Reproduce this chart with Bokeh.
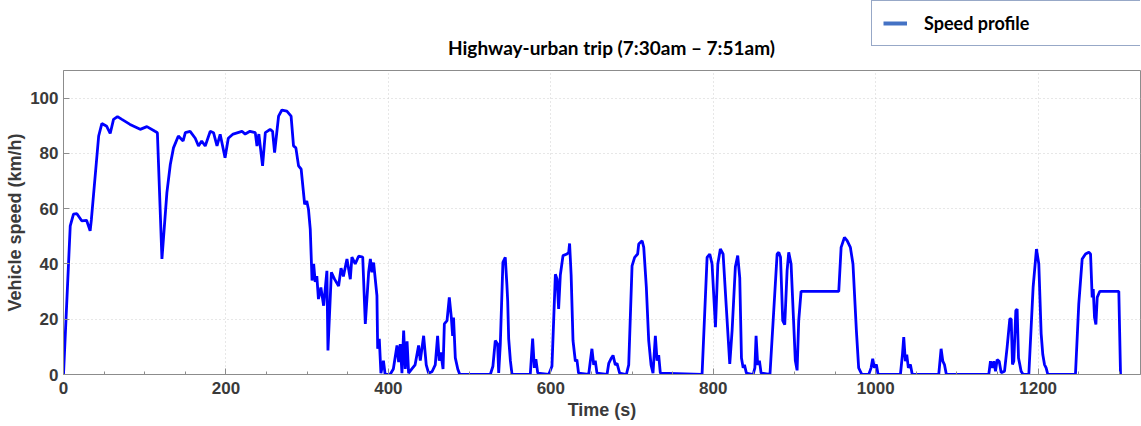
from bokeh.plotting import figure
from bokeh.layouts import column
from bokeh.models import (Range1d, Legend, LegendItem, Label,
                          SingleIntervalTicker, ColumnDataSource)
from bokeh.embed import file_html
from bokeh.resources import INLINE

# ---- data (time in s, speed in km/h) ----
time_s = [0, 8.3, 12.3, 16.5, 22.4, 28.4, 32.8, 34.3, 43.3, 47.2, 53.2, 57.5, 61.6, 66.5, 71.9,
          81.9, 94.4, 102.7, 112.6, 115.6, 121.2, 127.3, 131.5, 135.4, 141.4, 147.3, 150, 155.9,
          162.2, 166.2, 170.1, 174.5, 180.7, 184.7, 189, 192.9, 198.9, 202.9, 208.8, 219.7, 223.7,
          229.6, 236.1, 238.2, 240.5, 245.1, 248.5, 254.4, 257.4, 259.9, 264.8, 268.9, 275, 280.2,
          283.2, 286.1, 289.4, 292.6, 296.9, 299.5, 301.6, 303.8, 306, 308, 309.9, 311.9, 313.9,
          316.9, 320.3, 324.3, 325.6, 329.8, 333.7, 338.7, 341.7, 344.6, 349, 353.1, 355.1, 359.2,
          363.3, 368.4, 371.6, 375.7, 377.8, 379.7, 381.8, 385.9, 386.8, 388.8, 390.8, 393.9, 396,
          402.1, 406.1, 410.6, 412.6, 414.6, 416.7, 418.8, 420.8, 423, 424.9, 428.9, 432.9, 437.2,
          439.3, 443.4, 446.6, 449.5, 453.7, 457.7, 460.6, 462.6, 464.6, 467.3, 468.9, 472.2, 475,
          477.5, 479.1, 480.2, 482.4, 485.4, 487.9, 525.5, 528.7, 531.6, 534.5, 535.8, 537.8, 541,
          543.9, 545.9, 546.9, 548.1, 550.2, 552.2, 574.7, 577.6, 579.7, 581.6, 583.9, 597.4, 601.4,
          605.6, 607.7, 609.6, 611.7, 615, 619.9, 622, 623.1, 625, 627.3, 630.2, 632.1, 634.1, 646.6,
          648.7, 650.6, 652.8, 654.7, 656.8, 669.2, 671.3, 674.6, 676.6, 679.4, 681.5, 684.7, 693,
          695.9, 700, 703.2, 706.9, 708.2, 712.4, 714.4, 717.6, 720.5, 723.4, 725.8, 728.7, 730.8,
          732.8, 734.8, 786.2, 792.4, 795.7, 798.5, 802.7, 805.6, 808.7, 812.1, 815.9, 820.3, 823.2,
          827.2, 830.1, 832.6, 834.7, 836.8, 838.4, 840.8, 849.1, 851.2, 852.7, 854.7, 856.8, 858.9,
          869.8, 878.6, 880.7, 882.8, 885.5, 888, 890.9, 892.9, 895.8, 901, 903.2, 905.2, 908.1,
          954.5, 957.4, 961.5, 964.8, 968.8, 972, 976.2, 979, 983, 991.4, 994.3, 996.3, 998.3,
          1000.8, 1002.9, 1030.4, 1032.9, 1034.5, 1036.5, 1038.2, 1040.2, 1042.7, 1045, 1077.6,
          1080.5, 1082.6, 1084.6, 1087, 1139.2, 1141.3, 1143.4, 1145.4, 1147.5, 1149.5, 1152,
          1154.5, 1158.6, 1161.8, 1165.1, 1166.8, 1168.4, 1170, 1172.5, 1174.1, 1175.8, 1177.4,
          1179, 1181.5, 1188.5, 1193.8, 1197.9, 1200.8, 1203.7, 1205.7, 1207.8, 1209.8, 1211.9,
          1245.9, 1250, 1254.2, 1258.3, 1262.4, 1264.5, 1266.5, 1267.8, 1269.4, 1271.1, 1272.7,
          1275.9, 1299.3, 1301.4]
speed_kmh = [0, 53.8, 58, 58.2, 55.6, 55.8, 52, 56, 86.3, 90.8, 89.8, 87.2, 92.3, 93.3, 92.3,
             90.5, 88.7, 89.7, 88, 87.5, 41.8, 65.8, 76, 82, 86.3, 84.5, 87.5, 88,
             85.5, 82.7, 84.5, 82.7, 88, 87.5, 82.7, 86.9, 78.4, 85.5, 87, 88, 87,
             88, 87.5, 82.7, 87, 75.5, 87.5, 88.7, 88, 80.3, 93.5, 95.7, 95.3, 93.5,
             82.7, 82, 75.5, 74.3, 61.6, 62.8, 59.8, 52.6, 34, 40, 33.5, 35.6, 27.3,
             31.5, 24.9, 37.5, 8.7, 37, 34.5, 32, 38.5, 35.5, 41.8, 34.5, 42.5, 40,
             42.8, 42.5, 18.3, 37, 41.8, 37, 40.5, 28.5, 9.3, 12.9, 0.5, 5, 0,
             0, 2, 10.5, 4.5, 11, 0.5, 15.9, 2, 12, 0.5, 2, 3.5, 10.5,
             5, 14, 3.5, 0.5, 1, 3.5, 14, 5, 8, 2, 18.3, 19.5, 27.9,
             20.6, 14, 20.6, 6, 2, 0, 0, 3, 12.3, 11, 0.6, 11, 40.6,
             42.4, 32.5, 26.5, 13, 5, 0, 0, 13, 2.4, 5.5, 0.5, 0, 3,
             36.3, 34.5, 23.7, 36, 43, 43.6, 44.2, 47.4, 36, 12.3, 4.8, 5.4, 0.5, 0,
             5, 9.3, 3.5, 5, 0.5, 0, 4, 6, 6.9, 3.5, 4, 0.5, 0,
             3.5, 39.3, 42.4, 43.6, 47.2, 48.4, 46, 31.5, 12.3, 3.5, 0.5, 14, 5,
             7, 0.5, 0, 42.4, 43.6, 40, 17.1, 40, 45.4, 43.6, 25, 3.8, 16,
             39, 43, 35, 6, 2.4, 3.5, 0.5, 0, 2.4, 14, 3.5, 5, 0.5,
             0, 43.6, 44.2, 42.4, 19.5, 18, 37.6, 44.2, 40, 5.1, 1.5, 19.5, 30.1,
             30.1, 46, 49.6, 48.4, 46, 40, 15.9, 2.4, 0, 0, 2.4, 5.7, 2.4,
             3.6, 0, 0, 7.2, 13.5, 4.8, 7.2, 2.4, 3.6, 0, 0,
             9.3, 4.8, 3.6, 0, 0, 4.8, 2.4, 4.8, 1.2, 5.4, 4.8,
             0.6, 1.2, 9.9, 20.1, 20.1, 3.6, 4.8, 23.1, 23.7, 6, 3.6,
             1.2, 0, 0, 31.6, 45.4, 40, 14.7, 7.2, 3.6, 2.4, 0,
             0, 25.5, 41.8, 43.6, 44.2, 43.6, 27.9, 30.9, 20.6, 18.1, 27.9,
             30.1, 30.1, 0]

title_text = "Highway-urban trip (7:30am \u2013 7:51am)"
x_label = "Time (s)"
y_label = "Vehicle speed (km/h)"
legend_label = "Speed profile"

W = 1141
TOP_H = 69
MAIN_H = 426 - TOP_H
FRAME_L, FRAME_R = 63, 1140   # the column layout aligns both frames

# ---------- header strip: title + legend ----------
head = figure(width=W, height=TOP_H, output_backend="svg", toolbar_location=None,
              title=None, x_axis_type=None, y_axis_type=None,
              x_range=Range1d(FRAME_L, FRAME_R), y_range=Range1d(TOP_H, 0),
              min_border_left=FRAME_L, min_border_right=W - FRAME_R,
              min_border_top=0, min_border_bottom=0,
              outline_line_color=None, background_fill_color="white",
              border_fill_color="white")
head.grid.visible = False

head.add_layout(Label(x=611, y=47, text=title_text, text_align="center",
                      text_baseline="middle", text_font="Lato",
                      text_font_style="bold", text_font_size="19px",
                      text_color="#000000"))

leg_src = ColumnDataSource(dict(x=[float("nan")], y=[float("nan")]))
leg_r = head.line("x", "y", source=leg_src, line_color="#4472C4", line_width=4)
legend = Legend(items=[LegendItem(label=legend_label, renderers=[leg_r])],
                location=(871 - FRAME_L, TOP_H - 46), orientation="vertical",
                border_line_color="#2F528F", border_line_width=1.5,
                background_fill_color="white", background_fill_alpha=1.0,
                padding=11, margin=0, spacing=0,
                glyph_width=24, glyph_height=18, label_height=18,
                label_standoff=17, label_width=205,
                label_text_font="Lato", label_text_font_style="bold",
                label_text_font_size="18px", label_text_color="#000000")
head.add_layout(legend)

# ---------- main chart ----------
src = ColumnDataSource(dict(t=time_s, v=speed_kmh))

p = figure(width=W, height=MAIN_H, output_backend="svg", toolbar_location=None,
           title=None,
           x_range=Range1d(0, 1326), y_range=Range1d(0, 110),
           min_border_left=FRAME_L, min_border_right=W - FRAME_R,
           min_border_top=1, min_border_bottom=52,
           background_fill_color="white", border_fill_color="white")

xt = SingleIntervalTicker(interval=200, num_minor_ticks=4)
yt = SingleIntervalTicker(interval=20, num_minor_ticks=0)

axis_col = "#8c8c8c"
lab_col = "#3a3a3a"

for ax in p.xaxis:
    ax.ticker = xt
for ax in p.yaxis:
    ax.ticker = yt

for ax in list(p.xaxis) + list(p.yaxis):
    ax.axis_line_color = axis_col
    ax.major_tick_line_color = axis_col
    ax.minor_tick_line_color = axis_col
    ax.major_tick_in = 6
    ax.major_tick_out = 0
    ax.minor_tick_in = 3
    ax.minor_tick_out = 0
    ax.major_label_text_font = "Liberation Sans"
    ax.major_label_text_font_style = "bold"
    ax.major_label_text_font_size = "17px"
    ax.major_label_text_color = lab_col
    ax.axis_label_text_font = "Liberation Sans"
    ax.axis_label_text_font_style = "bold"
    ax.axis_label_text_font_size = "18px"
    ax.axis_label_text_color = lab_col

p.xaxis.axis_label = x_label
p.yaxis.axis_label = y_label
p.xaxis.major_label_standoff = 7
p.xaxis.axis_label_standoff = 3
p.yaxis.major_label_standoff = 5
p.yaxis.axis_label_standoff = 2

p.outline_line_color = axis_col

for g in (p.xgrid, p.ygrid):
    g.grid_line_color = "#cfcfcf"
    g.grid_line_dash = "1 3"
    g.grid_line_width = 1
p.xgrid.ticker = xt
p.ygrid.ticker = yt

p.line("t", "v", source=src, line_color="#0000FF", line_width=2.8)

layout = column(head, p, spacing=0)
open("out.html", "w").write(file_html(layout, INLINE))
